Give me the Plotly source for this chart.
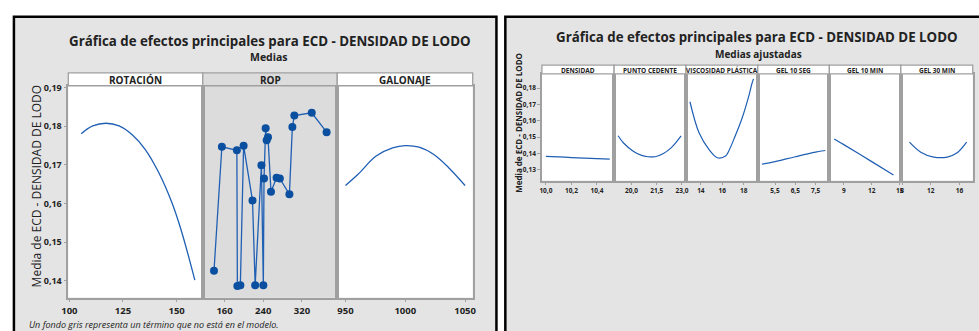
import plotly.graph_objects as go

W, H = 979, 331

# ---------------- data ----------------
rot_x = [105.5, 110.9, 117.0, 123.2, 129.3, 135.4, 141.6, 147.7, 152.3, 158.5]
rot_y = [0.1781, 0.1801, 0.1808, 0.1801, 0.1778, 0.1740, 0.1681, 0.1604, 0.1528, 0.1402]

rop_x = [138.2, 154.5, 185.5, 186.5, 192.7, 199.4, 217.8, 223.3, 236.2, 240.2, 241.6,
         245.0, 247.1, 249.8, 256.0, 267.6, 274.3, 294.1, 300.2, 304.3, 340.3, 371.0]
rop_y = [0.1426, 0.1747, 0.1738, 0.1387, 0.1389, 0.1750, 0.1608, 0.1389, 0.1699, 0.1389, 0.1665,
         0.1795, 0.1764, 0.1772, 0.1631, 0.1667, 0.1665, 0.1624, 0.1798, 0.1828, 0.1835, 0.1785]

gal_x = [950, 960.5, 975.6, 989.4, 1000, 1011.5, 1023.9, 1036.3, 1050]
gal_y = [0.1647, 0.1676, 0.1723, 0.1744, 0.1750, 0.1746, 0.1727, 0.1693, 0.1647]

den_x = [10.0, 10.1, 10.2, 10.3, 10.4, 10.5]
den_y = [0.1382, 0.1379, 0.1375, 0.1372, 0.1368, 0.1365]

pc_x = [19.2, 19.52, 20.1, 20.6, 20.97, 21.4, 21.9, 22.35, 22.95]
pc_y = [0.1508, 0.1464, 0.1414, 0.1388, 0.1380, 0.1380, 0.1400, 0.1434, 0.1508]

vp_x = [12.98, 13.84, 14.77, 15.54, 16.31, 16.6, 17.2, 17.85, 18.46, 18.77, 18.92]
vp_y = [0.1716, 0.1525, 0.1424, 0.1374, 0.1384, 0.1414, 0.1505, 0.1615, 0.1746, 0.1826, 0.1856]

g10s_x = [4.85, 5.5, 6.5, 7.5, 7.98]
g10s_y = [0.1334, 0.1350, 0.1380, 0.1408, 0.1418]

g10m_x = [7.97, 9, 12, 14.34]
g10m_y = [0.1489, 0.1454, 0.1350, 0.1268]

g30m_x = [9.02, 10.6, 12.4, 14.3, 15.68, 17.0]
g30m_y = [0.1469, 0.1408, 0.1378, 0.1378, 0.1404, 0.1469]

left_titles = ["ROTACIÓN", "ROP", "GALONAJE"]
right_titles = ["DENSIDAD", "PUNTO CEDENTE", "VISCOSIDAD PLÁSTICA", "GEL 10 SEG", "GEL 10 MIN", "GEL 30 MIN"]

left_ticks = [[100, 125, 150], [160, 240, 320], [950, 1000, 1050]]
right_ticks = [[10.0, 10.2, 10.4], [20.0, 21.5, 23.0], [14, 16, 18], [5.5, 6.5, 7.5], [9, 12, 15], [8, 12, 16]]
right_tickfmt = [".1f", ".1f", "d", ".1f", "d", "d"]

left_yticks = [0.14, 0.15, 0.16, 0.17, 0.18, 0.19]
right_yticks = [0.13, 0.14, 0.15, 0.16, 0.17, 0.18]

# ---------------- layout helpers ----------------
def px(x):
    return x / W

def py(y):
    return 1 - y / H

FONT = "Open Sans"
LINE = "#1f5fb4"
FRAME = "#a0a0a0"
PANEL = "#e4e4e4"
GRAYBG = "#dcdcdc"

fig = go.Figure()

left_bounds = [62, 198, 334, 471]
left_ytop, left_ybot = 82, 297
left_xr = [[99.5, 162.2], [115, 393], [943.1, 1056.4]]
left_yr = [0.1357, 0.1905]

right_bounds = [541, 614, 686.7, 759.3, 831.7, 904, 976.7]
right_ytop, right_ybot = 70, 178.3
right_xr = [[9.969, 10.534], [18.96, 23.24], [12.61, 19.32], [4.65, 8.18], [7.45, 15.13], [7.82, 17.85]]
right_yr = [0.1234, 0.1886]

series = [(rot_x, rot_y, False), (rop_x, rop_y, True), (gal_x, gal_y, False),
          (den_x, den_y, False), (pc_x, pc_y, False), (vp_x, vp_y, False),
          (g10s_x, g10s_y, False), (g10m_x, g10m_y, False), (g30m_x, g30m_y, False)]

layout = dict(width=W, height=H, margin=dict(l=0, r=0, t=0, b=0),
              paper_bgcolor="white", plot_bgcolor="rgba(0,0,0,0)",
              showlegend=False, separators=",.",
              font=dict(family=FONT, color="#222222"))

shapes = []
annotations = []

# panel backgrounds and borders
shapes.append(dict(type="rect", xref="paper", yref="paper", x0=px(7), x1=px(495), y0=py(340), y1=py(12),
                   fillcolor=PANEL, line=dict(color="black", width=2.5), layer="below"))
shapes.append(dict(type="rect", xref="paper", yref="paper", x0=px(504), x1=px(990), y0=py(340), y1=py(12),
                   fillcolor=PANEL, line=dict(color="black", width=2.5), layer="below"))

for i in range(9):
    n = i + 1
    xs, ys, markers = series[i]
    if i < 3:
        x0, x1 = left_bounds[i], left_bounds[i + 1]
        yt, yb = left_ytop, left_ybot
        xr, yr = left_xr[i], left_yr
        ticks = left_ticks[i]
        fmt = "d"
        yticks = left_yticks
        tfs, yfs = 9.5, 9
        lw = 1.3
        title = left_titles[i]
        hy0, hy1 = 69, 82
        hfs = 10
        bg = GRAYBG if i == 1 else "white"
    else:
        j = i - 3
        x0, x1 = right_bounds[j], right_bounds[j + 1]
        yt, yb = right_ytop, right_ybot
        xr, yr = right_xr[j], right_yr
        ticks = right_ticks[j]
        fmt = right_tickfmt[j]
        yticks = right_yticks
        tfs, yfs = 6.5, 6.5
        lw = 1.2
        title = right_titles[j]
        hy0, hy1 = 61, 70
        hfs = 6.5
        bg = "white"
    # plot background
    shapes.append(dict(type="rect", xref="paper", yref="paper", x0=px(x0), x1=px(x1), y0=py(yb), y1=py(yt),
                       fillcolor=bg, line=dict(width=0), layer="below"))
    # strip header
    shapes.append(dict(type="rect", xref="paper", yref="paper", x0=px(x0), x1=px(x1), y0=py(hy1), y1=py(hy0),
                       fillcolor=bg, line=dict(color=FRAME, width=1.3), layer="above"))
    annotations.append(dict(text="<b>" + title + "</b>", xref="paper", yref="paper",
                            x=px((x0 + x1) / 2), y=py((hy0 + hy1) / 2 + 0.5), showarrow=False,
                            xanchor="center", yanchor="middle",
                            font=dict(size=hfs, family=FONT, color="#222222")))

    xa = "x" if n == 1 else "x%d" % n
    ya = "y" if n == 1 else "y%d" % n
    if markers:
        fig.add_trace(go.Scatter(x=xs, y=ys, mode="lines+markers", xaxis=xa, yaxis=ya,
                                 line=dict(color=LINE, width=1.3),
                                 marker=dict(color="#0b50a0", size=8)))
    else:
        fig.add_trace(go.Scatter(x=xs, y=ys, mode="lines", xaxis=xa, yaxis=ya,
                                 line=dict(color=LINE, width=lw, shape="spline", smoothing=1.0)))

    first = (i == 0 or i == 3)
    layout["xaxis" if n == 1 else "xaxis%d" % n] = dict(
        domain=[px(x0), px(x1)], range=xr, anchor=ya, tickvals=ticks, tickformat=fmt,
        showgrid=False, zeroline=False, showline=True, mirror=True, linecolor=FRAME, linewidth=1.5,
        ticks="outside", ticklen=3, tickcolor=FRAME,
        tickfont=dict(size=tfs, family=FONT, color="#222222", weight="bold"))
    layout["yaxis" if n == 1 else "yaxis%d" % n] = dict(
        domain=[py(yb), py(yt)], range=yr, anchor=xa, tickvals=yticks, tickformat=".2f",
        showgrid=False, zeroline=False, showline=True, mirror=True, linecolor=FRAME, linewidth=1.5,
        ticks="outside" if first else "", ticklen=3, tickcolor=FRAME, showticklabels=first,
        tickfont=dict(size=yfs, family=FONT, color="#222222", weight="bold"))

# titles
annotations.append(dict(text="<b>Gráfica de efectos principales para ECD - DENSIDAD DE LODO</b>",
                        xref="paper", yref="paper", x=px(266), y=py(37), showarrow=False,
                        xanchor="center", yanchor="middle", font=dict(size=13.3, family=FONT, color="#222222")))
annotations.append(dict(text="<b>Medias</b>", xref="paper", yref="paper", x=px(265), y=py(52.5), showarrow=False,
                        xanchor="center", yanchor="middle", font=dict(size=10.5, family=FONT, color="#222222")))
annotations.append(dict(text="Media de ECD - DENSIDAD DE LODO", xref="paper", yref="paper", x=px(29.5), y=py(184),
                        showarrow=False, textangle=-90, xanchor="center", yanchor="middle",
                        font=dict(size=12, family=FONT, color="#222222")))
annotations.append(dict(text="<i>Un fondo gris representa un término que no está en el modelo.</i>",
                        xref="paper", yref="paper", x=px(20), y=py(324), showarrow=False,
                        xanchor="left", yanchor="middle", font=dict(size=9, family=FONT, color="#222222")))

annotations.append(dict(text="<b>Gráfica de efectos principales para ECD - DENSIDAD DE LODO</b>",
                        xref="paper", yref="paper", x=px(759), y=py(32), showarrow=False,
                        xanchor="center", yanchor="middle", font=dict(size=13.3, family=FONT, color="#222222")))
annotations.append(dict(text="<b>Medias ajustadas</b>", xref="paper", yref="paper", x=px(760), y=py(49.5),
                        showarrow=False, xanchor="center", yanchor="middle",
                        font=dict(size=10, family=FONT, color="#222222")))
annotations.append(dict(text="<b>Media de ECD - DENSIDAD DE LODO</b>", xref="paper", yref="paper", x=px(517.5),
                        y=py(120), showarrow=False, textangle=-90, xanchor="center", yanchor="middle",
                        font=dict(size=8, family=FONT, color="#222222")))

layout["shapes"] = shapes
layout["annotations"] = annotations
fig.update_layout(**layout)
fig.write_html("out.html")
